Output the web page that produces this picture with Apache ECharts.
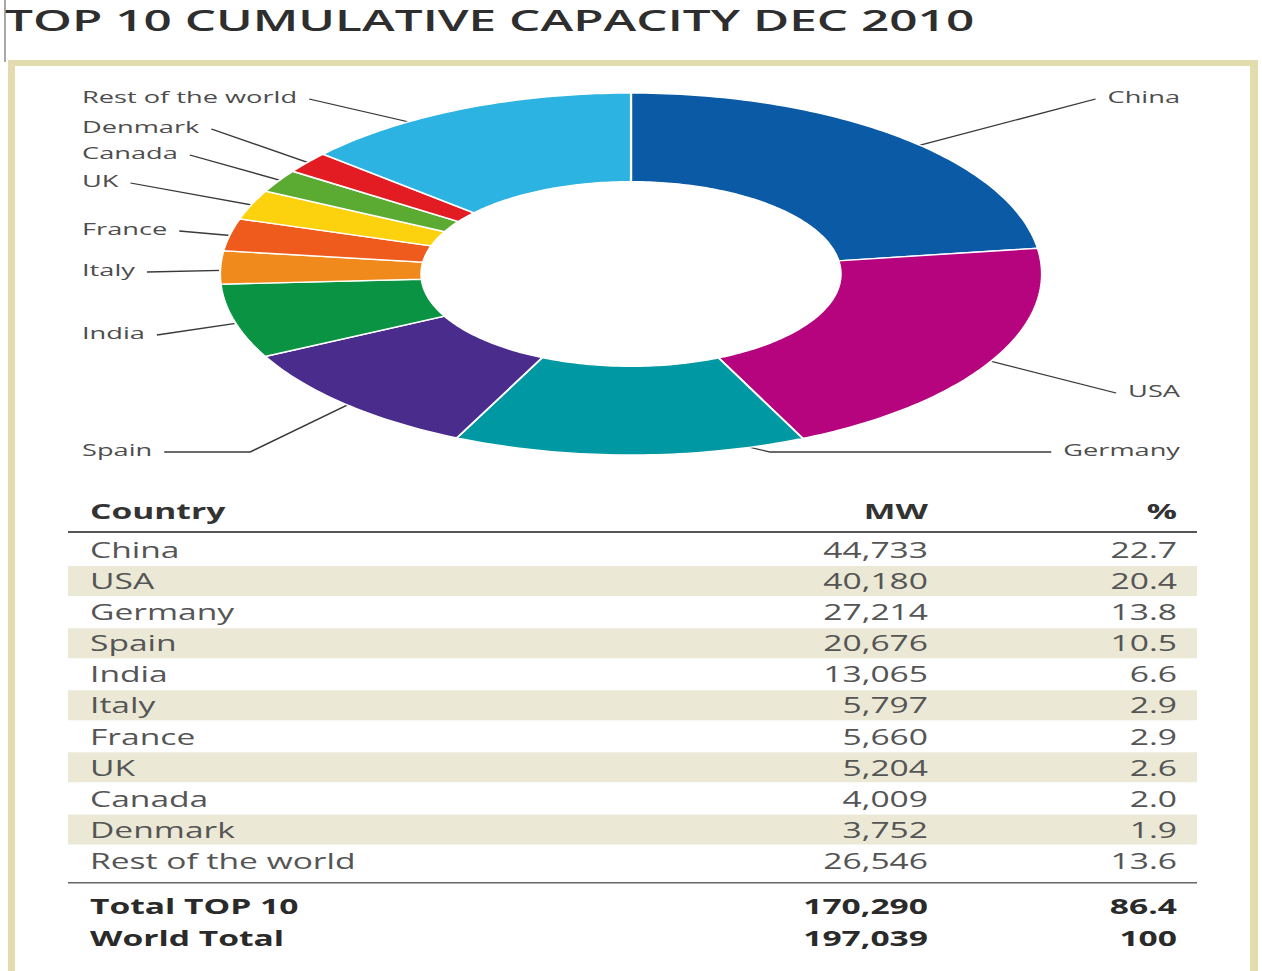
<!DOCTYPE html>
<html>
<head>
<meta charset="utf-8">
<script src="https://cdn.jsdelivr.net/npm/echarts@6/dist/echarts.min.js"></script>
<style>
  html, body { margin: 0; padding: 0; background: #ffffff; overflow: hidden; }
  /* The artwork is laid out in a narrower box and widened, which gives the wide lettering and the oval ring */
  #chart { width: 788.75px; height: 971px; transform: scaleX(1.6); transform-origin: 0 0; }
</style>
</head>
<body>
<div id="chart"></div>
<script>
// ---- data ----
const titleText = 'TOP 10 CUMULATIVE CAPACITY DEC 2010';
const countries = ['China', 'USA', 'Germany', 'Spain', 'India', 'Italy', 'France', 'UK', 'Canada', 'Denmark', 'Rest of the world'];
const capacityMW = [44733, 40180, 27214, 20676, 13065, 5797, 5660, 5204, 4009, 3752, 26546];
const sharePct = ['22.7', '20.4', '13.8', '10.5', '6.6', '2.9', '2.9', '2.6', '2.0', '1.9', '13.6'];
const tableHeader = ['Country', 'MW', '%'];
const totalNames = ['Total TOP 10', 'World Total'];
const totalMW = [170290, 197039];
const totalPct = ['86.4', '100'];

// ---- styles ----
const sliceColors = ['#0b5aa5', '#b6047f', '#0099a3', '#4a2c8d', '#0a9343', '#f08a1c',
                     '#ef5b1c', '#fcd20e', '#5bab33', '#e31b23', '#2db3e2'];
const FONT = '"Open Sans", "DejaVu Sans", sans-serif';
const S = 1.6;                 // horizontal widening applied to the whole drawing
const X = v => v / S;          // page x -> drawing x

// ---- layout (page pixels) ----
const ring = { cx: 631, cy: 274, rx: 411, ry: 181, inner: 0.51 };
const labelLeftX = 82, labelRightX = 1180, labelGap = 12, labelSize = 17;
// row and side of each slice label; optional elbow for the leader line
const labelRows = {
  'China': { y: 97, right: true }, 'USA': { y: 391, right: true },
  'Germany': { y: 450, right: true, knee: 770 },
  'Spain': { y: 450, knee: 250 }, 'India': { y: 333 }, 'Italy': { y: 270 },
  'France': { y: 229 }, 'UK': { y: 181 }, 'Canada': { y: 153 },
  'Denmark': { y: 127 }, 'Rest of the world': { y: 97 }
};
const table = { left: 68, right: 1197, nameX: 90, mwX: 928, pctX: 1177,
                headY: 511, headRule: 531, firstRow: 550, pitch: 31.05,
                footRule: 882, totalsY: [906, 938], size: 21 };

// ---- slice fractions from the capacities ----
const totalCap = capacityMW.reduce((a, b) => a + b, 0);
const sliceData = [];
let acc = 0;
capacityMW.forEach(v => {
  const f0 = acc / totalCap;
  acc += v;
  sliceData.push([f0, acc / totalCap]);
});

const measureCtx = document.createElement('canvas').getContext('2d');
function textWidth(str, size, weight) {
  measureCtx.font = (weight || 'normal') + ' ' + size + 'px ' + FONT;
  return measureCtx.measureText(str).width;
}
const fmt = n => n.toLocaleString('en-US');

function renderSlice(params, api) {
  const i = params.dataIndex;
  const f0 = api.value(0), f1 = api.value(1);
  const pt = (r, f) => {
    const a = f * 2 * Math.PI;
    return api.coord([r * Math.sin(a), r * Math.cos(a)]);
  };
  const steps = Math.max(6, Math.ceil((f1 - f0) * 360));
  const pts = [];
  for (let k = 0; k <= steps; k++) pts.push(pt(1, f0 + (f1 - f0) * k / steps));
  for (let k = steps; k >= 0; k--) pts.push(pt(ring.inner, f0 + (f1 - f0) * k / steps));

  const name = countries[i];
  const row = labelRows[name];
  const mid = (f0 + f1) / 2;
  const onRight = !!row.right;
  const tw = textWidth(name, labelSize);
  const lineY = row.y + 2;
  const endX = onRight ? X(labelRightX - labelGap) - tw : X(labelLeftX + labelGap) + tw;
  const leader = [pt(0.8, mid)];
  if (row.knee != null) leader.push([X(row.knee), lineY]);
  leader.push([endX, lineY]);

  return {
    type: 'group',
    children: [
      { type: 'polyline', z2: 1, shape: { points: leader },
        style: { stroke: '#3a3a3a', lineWidth: 1.3, fill: null } },
      { type: 'polygon', z2: 10, shape: { points: pts },
        style: { fill: sliceColors[i], stroke: '#ffffff', lineWidth: 1.4 } },
      { type: 'text', z2: 12, x: onRight ? X(labelRightX) : X(labelLeftX), y: row.y,
        style: { text: name, fontSize: labelSize, fontFamily: FONT, fill: '#4d4d4d',
                 align: onRight ? 'right' : 'left', verticalAlign: 'middle' } }
    ]
  };
}

// ---- frame, title and table as graphic elements ----
const g = [];
// frame
g.push({ type: 'rect', z: -10, shape: { x: X(4), y: 0, width: X(2), height: 62 }, style: { fill: '#a9a9a9' } });
g.push({ type: 'rect', z: -10, shape: { x: X(8), y: 60, width: X(1250), height: 6 }, style: { fill: '#e3dcae' } });
g.push({ type: 'rect', z: -10, shape: { x: X(8), y: 60, width: X(7), height: 911 }, style: { fill: '#e3dcae' } });
g.push({ type: 'rect', z: -10, shape: { x: X(1250), y: 60, width: X(8), height: 911 }, style: { fill: '#e3dcae' } });
// title (a little extra width on top of the page widening)
g.push({ type: 'text', x: X(5), y: 6, scaleX: 1.105,
  style: { text: titleText, fontSize: 28, fontWeight: 600, fontFamily: FONT, fill: '#2e2e2e',
           verticalAlign: 'top', align: 'left' } });

const tText = (str, x, y, align, weight, color) => ({
  type: 'text', x: X(x), y: y,
  style: { text: str, fontSize: table.size, fontWeight: weight, fontFamily: FONT, fill: color,
           align: align, verticalAlign: 'middle' }
});
// header
g.push(tText(tableHeader[0], table.nameX, table.headY, 'left', 'bold', '#333333'));
g.push(tText(tableHeader[1], table.mwX, table.headY, 'right', 'bold', '#333333'));
g.push(tText(tableHeader[2], table.pctX, table.headY, 'right', 'bold', '#333333'));
g.push({ type: 'rect', shape: { x: X(table.left), y: table.headRule, width: X(table.right - table.left), height: 2 },
  style: { fill: '#555555' } });
// rows
countries.forEach((c, i) => {
  const y = table.firstRow + i * table.pitch;
  if (i % 2 === 1) {
    g.push({ type: 'rect', z: -5, shape: { x: X(table.left), y: y - 15, width: X(table.right - table.left), height: 30 },
      style: { fill: '#ebe9d6' } });
  }
  g.push(tText(c, table.nameX, y, 'left', 'normal', '#555555'));
  g.push(tText(fmt(capacityMW[i]), table.mwX, y, 'right', 'normal', '#555555'));
  g.push(tText(sharePct[i], table.pctX, y, 'right', 'normal', '#555555'));
});
g.push({ type: 'rect', shape: { x: X(table.left), y: table.footRule, width: X(table.right - table.left), height: 1.5 },
  style: { fill: '#666666' } });
// totals
totalNames.forEach((n, i) => {
  const y = table.totalsY[i];
  g.push(tText(n, table.nameX, y, 'left', 'bold', '#2a2a2a'));
  g.push(tText(fmt(totalMW[i]), table.mwX, y, 'right', 'bold', '#2a2a2a'));
  g.push(tText(totalPct[i], table.pctX, y, 'right', 'bold', '#2a2a2a'));
});

const chart = echarts.init(document.getElementById('chart'), null, { renderer: 'svg' });
chart.setOption({
  animation: false,
  backgroundColor: 'transparent',
  grid: { left: X(ring.cx - ring.rx), width: X(2 * ring.rx), top: ring.cy - ring.ry, height: 2 * ring.ry },
  xAxis: { type: 'value', min: -1, max: 1, show: false },
  yAxis: { type: 'value', min: -1, max: 1, show: false },
  graphic: { elements: g },
  series: [{
    type: 'custom',
    clip: false,
    renderItem: renderSlice,
    encode: { x: 0, y: 1 },
    data: sliceData
  }]
});
</script>
</body>
</html>
